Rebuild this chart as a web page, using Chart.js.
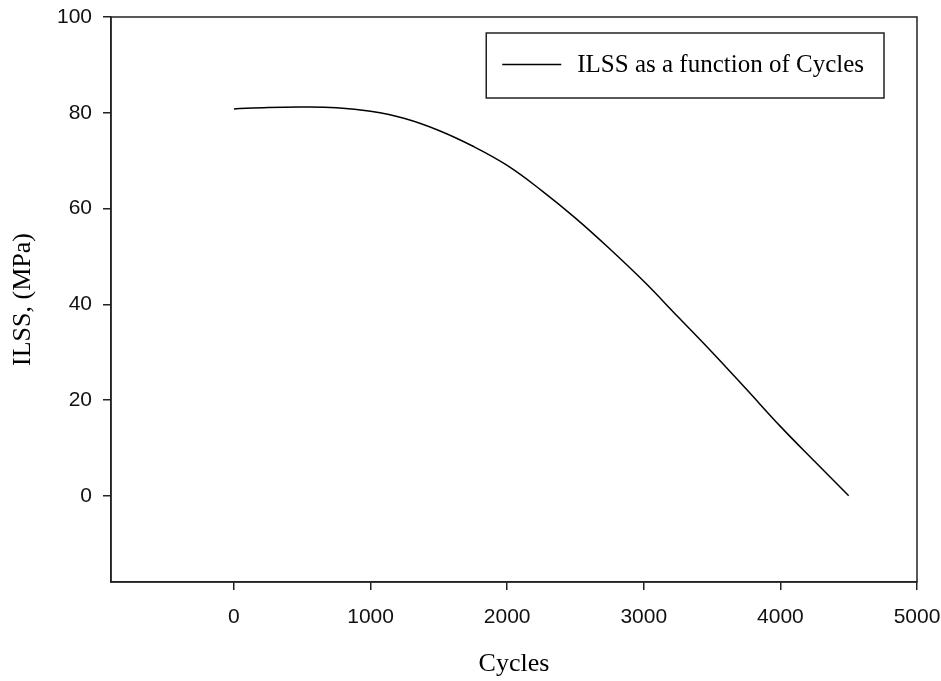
<!DOCTYPE html>
<html>
<head>
<meta charset="utf-8">
<script src="https://cdn.jsdelivr.net/npm/chart.js@4.4.1/dist/chart.umd.min.js"></script>
<style>
  html, body { margin: 0; padding: 0; background: #fff; }
  #wrap { width: 941px; height: 681px; position: relative; }
</style>
</head>
<body>
<div id="wrap"><canvas id="myChart"></canvas></div>
<script>
// data
const cycles = [0, 250, 500, 750, 1000, 1250, 1500, 1750, 2000, 2250, 2500, 2750, 3000, 3250, 3500, 3750, 4000, 4250, 4500];
const ilss = [80.8, 81.1, 81.2, 81.05, 80.3, 78.8, 76.3, 73.0, 69.0, 63.8, 58.0, 51.6, 44.8, 37.4, 30.0, 22.3, 14.5, 7.2, 0];
const xTicks = [0, 1000, 2000, 3000, 4000, 5000];
const yTicks = [0, 20, 40, 60, 80, 100];
const seriesLabel = 'ILSS as a function of Cycles';

const axisColor = '#222';

// no extra room for tick label overflow, plot box is set by layout padding
function noScalePadding(s) {
  s.paddingLeft = 0;
  s.paddingRight = 0;
  s.paddingTop = 0;
  s.paddingBottom = 0;
}

// frame round the plot + boxed legend
const frameAndLegend = {
  id: 'frameAndLegend',
  afterDraw(chart) {
    const { ctx, chartArea: a } = chart;
    ctx.save();
    ctx.strokeStyle = axisColor;
    ctx.lineWidth = 1.5;
    ctx.strokeRect(a.left, a.top, a.right - a.left, a.bottom - a.top);

    // legend
    ctx.font = '25px "Liberation Serif", "Times New Roman", serif';
    const label = chart.data.datasets[0].label;
    const tw = ctx.measureText(label).width;
    const w = 16 + 59 + 16 + tw + 20;
    const h = 65;
    const right = a.right - 33;
    const top = a.top + 16;
    const left = right - w;
    ctx.strokeRect(left, top, w, h);
    ctx.beginPath();
    ctx.lineWidth = 1.5;
    ctx.strokeStyle = '#000';
    ctx.moveTo(left + 16, Math.round(top + 31) + 0.5);
    ctx.lineTo(left + 75, Math.round(top + 31) + 0.5);
    ctx.stroke();
    ctx.fillStyle = '#000';
    ctx.textBaseline = 'middle';
    ctx.textAlign = 'left';
    ctx.fillText(label, left + 91, top + 32);
    ctx.restore();
  }
};

new Chart(document.getElementById('myChart'), {
  type: 'line',
  data: {
    datasets: [{
      label: seriesLabel,
      data: cycles.map((c, i) => ({ x: c, y: ilss[i] })),
      borderColor: '#000',
      borderWidth: 1.5,
      pointRadius: 0,
      fill: false,
      tension: 0.4
    }]
  },
  options: {
    responsive: true,
    maintainAspectRatio: false,
    animation: false,
    layout: { padding: { top: 17, right: 24, left: 0, bottom: 0 } },
    plugins: {
      legend: { display: false },
      tooltip: { enabled: false }
    },
    scales: {
      x: {
        type: 'linear',
        min: -900,
        max: 5000,
        afterBuildTicks: s => { s.ticks = xTicks.map(v => ({ value: v })); },
        afterFit: s => { s.height = 99; noScalePadding(s); },
        grid: { display: true, drawOnChartArea: false, drawTicks: true, tickLength: 8, color: axisColor, lineWidth: 1.5 },
        border: { display: true, color: axisColor, width: 1.5 },
        ticks: {
          color: '#111',
          padding: 15,
          maxRotation: 0,
          callback: v => String(v),
          font: { family: '"Liberation Sans", Arial, sans-serif', size: 21 }
        },
        title: {
          display: true,
          text: 'Cycles',
          color: '#000',
          padding: { top: 0, bottom: 1 },
          font: { family: '"Liberation Serif", "Times New Roman", serif', size: 26 }
        }
      },
      y: {
        type: 'linear',
        min: -18,
        max: 100,
        afterBuildTicks: s => { s.ticks = yTicks.map(v => ({ value: v })); },
        afterFit: s => { s.width = 111; noScalePadding(s); },
        grid: { display: true, drawOnChartArea: false, drawTicks: true, tickLength: 8, color: axisColor, lineWidth: 1.5 },
        border: { display: true, color: axisColor, width: 1.5 },
        ticks: {
          color: '#111',
          padding: 11,
          callback: v => String(v),
          font: { family: '"Liberation Sans", Arial, sans-serif', size: 21 }
        },
        title: {
          display: true,
          text: 'ILSS, (MPa)',
          color: '#000',
          padding: { top: 8, bottom: 0 },
          font: { family: '"Liberation Serif", "Times New Roman", serif', size: 26 }
        }
      }
    }
  },
  plugins: [frameAndLegend]
});
</script>
</body>
</html>
